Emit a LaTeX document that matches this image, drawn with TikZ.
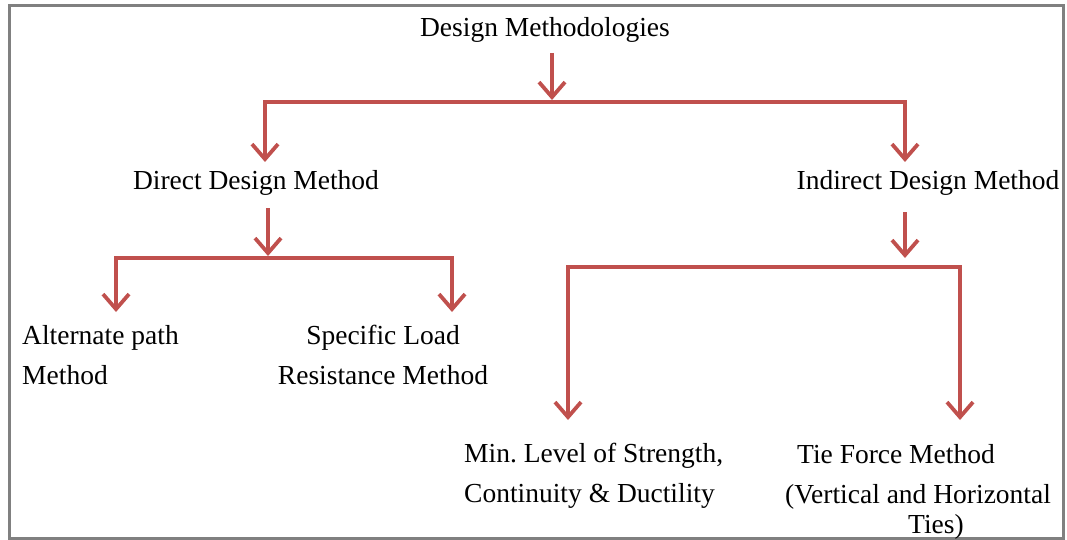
\documentclass[tikz,border=0pt]{standalone}
\usepackage{fontspec}
\setmainfont{Liberation Serif}
\usetikzlibrary{arrows.meta}
\definecolor{myred}{HTML}{C0504D}
\definecolor{framegrey}{HTML}{808080}
\tikzset{
  conn/.style={draw=myred, line width=3.8pt, line join=miter},
  arr/.style={conn, -{Straight Barb[length=15pt,width=26pt,line width=3.8pt]}},
  arrtwo/.style={conn, {Straight Barb[length=15pt,width=26pt,line width=3.8pt]}-{Straight Barb[length=15pt,width=26pt,line width=3.8pt]}},
  lbl/.style={inner sep=0pt, font=\fontsize{27.5}{40}\selectfont, text=black}
}
\begin{document}
\begin{tikzpicture}[x=1pt,y=-1pt]
\useasboundingbox (0,0) rectangle (1067,540);
\draw[framegrey, line width=3pt] (9,6) rectangle (1063,538);

\node[lbl] (dm) at (545,30) {Design Methodologies};
\node[lbl] (ddm) at (256,183) {Direct Design Method};
\node[lbl] (idm) at (928,183) {Indirect Design Method};
\node[lbl, align=left, anchor=west] (apm) at (22,355) {Alternate path\\Method};
\node[lbl, align=center] (slr) at (383,355) {Specific Load\\Resistance Method};
\node[lbl, align=left, anchor=west] (mls) at (464,476) {Min.\ Level of Strength,\\Continuity \& Ductility};
\node[lbl, align=left, anchor=north west] (tfm) at (785,444) {\hspace{12pt}Tie Force Method\\(Vertical and Horizontal\\[-10pt]\hspace{123pt}Ties)};

% level 1
\coordinate (b1m) at (552,100);
\coordinate (b1l) at (265,102);
\coordinate (b1r) at (905,102);
\coordinate (t1l) at (265,162);
\coordinate (t1r) at (905,162);
\draw[arr] (552,53) -- (b1m);
\draw[arrtwo] (t1l) -- (b1l) -- (b1r) -- (t1r);

% direct
\coordinate (b2m) at (268,256);
\coordinate (b2l) at (116,258);
\coordinate (b2r) at (452,258);
\coordinate (t2l) at (116,312);
\coordinate (t2r) at (452,312);
\draw[arr] (268,208) -- (b2m);
\draw[arrtwo] (t2l) -- (b2l) -- (b2r) -- (t2r);

% indirect
\coordinate (b3m) at (905,258);
\coordinate (b3l) at (568,267);
\coordinate (b3r) at (960,267);
\coordinate (t3l) at (568,420);
\coordinate (t3r) at (960,420);
\draw[arr] (905,212) -- (b3m);
\draw[arrtwo] (t3l) -- (b3l) -- (b3r) -- (t3r);
\end{tikzpicture}
\end{document}
